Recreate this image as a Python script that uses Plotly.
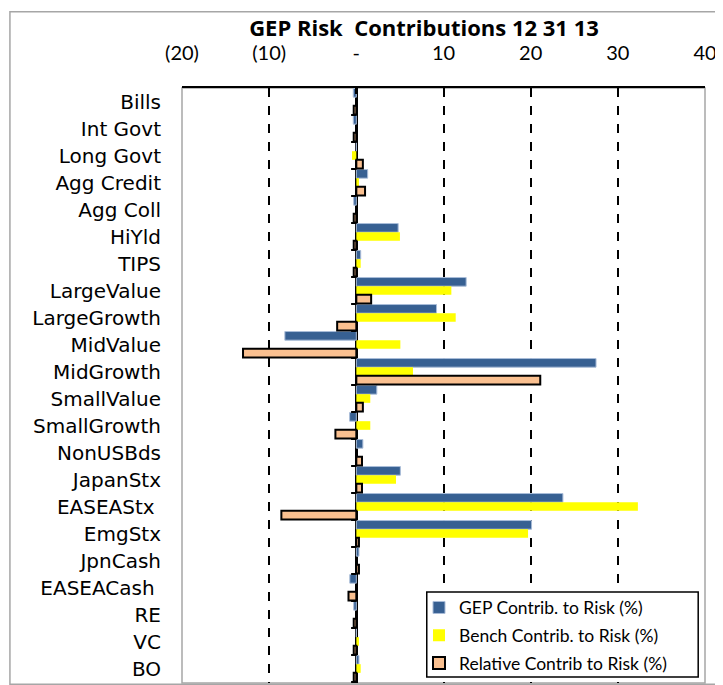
import plotly.graph_objects as go

categories = ["Bills", "Int Govt", "Long Govt", "Agg Credit", "Agg Coll", "HiYld", "TIPS",
              "LargeValue", "LargeGrowth", "MidValue", "MidGrowth", "SmallValue", "SmallGrowth",
              "NonUSBds", "JapanStx", "EASEAStx ", "EmgStx", "JpnCash", "EASEACash ", "RE", "VC", "BO"]

gep = [-0.35, -0.35, 0.0, 1.3, -0.3, 4.8, 0.5, 12.6, 9.2, -8.2, 27.5, 2.35, -0.77,
       0.75, 5.05, 23.7, 20.1, 0.3, -0.75, -0.3, 0.0, 0.3]
bench = [0.0, 0.0, -0.5, 0.3, 0.0, 5.0, 0.5, 10.9, 11.4, 5.05, 6.5, 1.6, 1.6,
         0.0, 4.55, 32.3, 19.7, 0.0, 0.0, 0.0, 0.3, 0.5]
relative = [-0.3, -0.3, 0.75, 1.0, -0.3, -0.3, -0.3, 1.7, -2.2, -13.0, 21.1, 0.75, -2.4,
            0.65, 0.65, -8.6, 0.3, 0.3, -0.9, -0.3, -0.3, -0.3]

tick_vals = [-20, -10, 0, 10, 20, 30, 40]
tick_text = ["(20)", "(10)", "-", "10", "20", "30", "40"]

fig = go.Figure()
fig.add_trace(go.Bar(y=categories, x=gep, orientation="h", name="GEP Contrib. to Risk (%)",
                     legendgroup="a",
                     marker=dict(color="#376092", line=dict(color="#A9BCD8", width=1))))
fig.add_trace(go.Bar(y=categories, x=bench, orientation="h", name="Bench Contrib. to Risk (%)",
                     legendgroup="b",
                     marker=dict(color="#FFFF00", line=dict(width=0))))
fig.add_trace(go.Bar(y=categories, x=relative, orientation="h", name="Relative Contrib to Risk (%)",
                     legendgroup="c",
                     marker=dict(color="#FAC090", line=dict(color="black", width=2))))

shapes = []
# outer chart border
shapes.append(dict(type="rect", xref="paper", yref="paper", x0=-0.329, x1=1.025, y0=-0.002, y1=1.128,
                   line=dict(color="#A6A6A6", width=1.5), layer="below"))
# plot area border
shapes.append(dict(type="rect", xref="paper", yref="paper", x0=0, x1=1, y0=0, y1=1,
                   line=dict(color="#A6A6A6", width=1.5), layer="below"))
# category ticks on the zero axis
for i in range(len(categories)):
    shapes.append(dict(type="line", xref="x", yref="y", x0=-0.6, x1=0, y0=i + 0.5, y1=i + 0.5,
                       line=dict(color="black", width=2)))
# legend box
shapes.append(dict(type="rect", xref="paper", yref="paper", x0=0.468, x1=0.987, y0=0.010, y1=0.153,
                   fillcolor="white", line=dict(color="black", width=1.5), layer="above"))

# page body has an 8px margin: figure is drawn at (8, 8)
fig.update_layout(
    width=715, height=677,
    margin=dict(l=174, r=18, t=80, b=2),
    paper_bgcolor="white", plot_bgcolor="white",
    barmode="group", bargap=0.04, bargroupgap=0.0,
    title=dict(text="<b>GEP Risk  Contributions 12 31 13</b>", x=416 / 715, xanchor="center",
               y=1 - 20 / 677, yanchor="middle",
               font=dict(family="Open Sans", size=22, color="black")),
    xaxis=dict(side="top", range=[-20, 40], tickvals=tick_vals, ticktext=tick_text,
               tickfont=dict(family="Lato", size=20, color="black"), ticklabelstandoff=18,
               showgrid=True, gridcolor="black", griddash="dash", gridwidth=1.5,
               zeroline=True, zerolinecolor="black", zerolinewidth=2.5,
               showline=True, linecolor="black", linewidth=2,
               ticks="inside", ticklen=6, tickwidth=2, tickcolor="black", fixedrange=True),
    yaxis=dict(autorange="reversed", tickfont=dict(family="DejaVu Sans", size=20, color="black"),
               showgrid=False, showline=False, ticks="", ticklabelstandoff=20),
    legend=dict(x=(419 - 182) / 523, xanchor="left", y=0.157, yanchor="top",
                font=dict(family="Lato", size=17.5, color="black"),
                bgcolor="rgba(0,0,0,0)", borderwidth=0,
                traceorder="grouped", tracegroupgap=2, itemwidth=30),
    shapes=shapes,
    showlegend=True,
)

fig.write_html("out.html")
